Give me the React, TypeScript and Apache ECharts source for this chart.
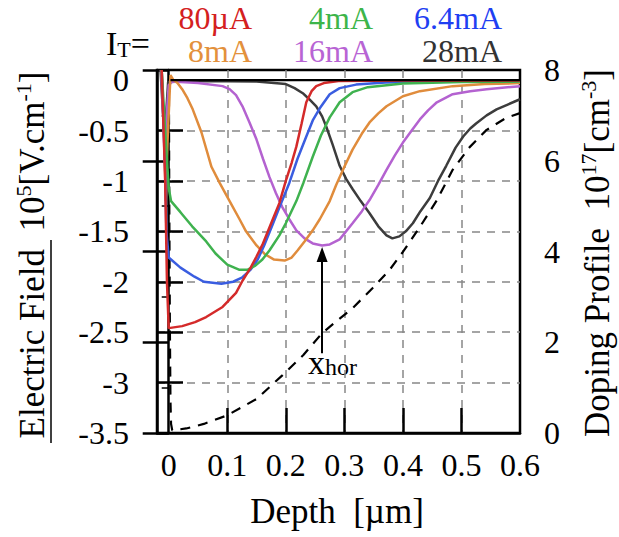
import React, { useEffect, useRef } from 'react';
import * as echarts from 'echarts';

// ---- axes ----
const xLabelValues = [0, 0.1, 0.2, 0.3, 0.4, 0.5, 0.6];
const xTickValues = [0.1, 0.2, 0.3, 0.4, 0.5];
const fieldLabelValues = [-3.5, -3, -2.5, -2, -1.5, -1, -0.5, 0];
const fieldTickValues = [-3, -2.5, -2, -1.5, -1, -0.5];

// ---- legend ----
const currentLabels = ['80µA', '4mA', '6.4mA', '8mA', '16mA', '28mA'];
const curveColors = ['#d42a2a', '#3fb24f', '#3a5de0', '#e08c3c', '#b462d0', '#3c3c3c'];
const labelColors = ['#d42020', '#3db54a', '#1f3ff2', '#e3913c', '#b864d4', '#333333'];

// ---- electric field [1e5 V/cm] vs depth [µm] ----
const field80uA = [
  [-0.012, 0.1], [-0.006, -1.0], [-0.003, -2.0], [0.0, -2.46], [0.023, -2.44], [0.045, -2.4],
  [0.064, -2.35], [0.092, -2.25], [0.115, -2.11], [0.126, -1.99], [0.14, -1.86], [0.15, -1.75],
  [0.161, -1.62], [0.175, -1.42], [0.189, -1.22], [0.2, -1.0], [0.21, -0.82], [0.218, -0.66],
  [0.227, -0.43], [0.235, -0.22], [0.244, -0.11], [0.252, -0.06], [0.265, -0.03], [0.29, -0.01],
  [0.4, -0.005], [0.6, -0.003],
];
const field4mA = [
  [-0.012, 0.1], [-0.005, -0.6], [0.0, -1.07], [0.004, -1.2], [0.02, -1.31], [0.04, -1.45],
  [0.064, -1.6], [0.08, -1.72], [0.1, -1.83], [0.12, -1.88], [0.135, -1.88], [0.148, -1.84],
  [0.16, -1.78], [0.172, -1.69], [0.189, -1.54], [0.2, -1.42], [0.218, -1.2], [0.23, -1.02],
  [0.246, -0.76], [0.26, -0.55], [0.275, -0.37], [0.292, -0.22], [0.314, -0.12], [0.34, -0.07],
  [0.4, -0.035], [0.5, -0.02], [0.6, -0.015],
];
const field6p4mA = [
  [-0.012, 0.1], [-0.006, -0.9], [-0.004, -1.5], [0.0, -1.76], [0.02, -1.86], [0.044, -1.95],
  [0.06, -2.0], [0.09, -2.02], [0.11, -2.0], [0.125, -1.96], [0.14, -1.88], [0.152, -1.78],
  [0.163, -1.64], [0.177, -1.44], [0.19, -1.25], [0.206, -1.02], [0.22, -0.78], [0.235, -0.56],
  [0.246, -0.4], [0.258, -0.28], [0.275, -0.14], [0.292, -0.08], [0.32, -0.045], [0.37, -0.025],
  [0.45, -0.015], [0.6, -0.01],
];
const field8mA = [
  [-0.012, 0.1], [-0.008, -0.5], [-0.005, -1.2], [-0.002, -0.6], [0.003, 0.05], [0.008, 0.0],
  [0.015, -0.03], [0.023, -0.09], [0.032, -0.18], [0.041, -0.29], [0.056, -0.52], [0.073, -0.86],
  [0.087, -1.02], [0.104, -1.2], [0.121, -1.38], [0.132, -1.5], [0.15, -1.64], [0.165, -1.73],
  [0.18, -1.78], [0.198, -1.79], [0.21, -1.76], [0.22, -1.69], [0.232, -1.6], [0.246, -1.49],
  [0.258, -1.38], [0.275, -1.2], [0.286, -1.04], [0.3, -0.86], [0.314, -0.69], [0.33, -0.53],
  [0.343, -0.42], [0.358, -0.33], [0.372, -0.26], [0.4, -0.16], [0.429, -0.11], [0.485, -0.06],
  [0.54, -0.04], [0.6, -0.03],
];
const field16mA = [
  [-0.013, 0.1], [-0.009, -0.4], [-0.007, -0.8], [-0.004, -0.4], [0.0, -0.05], [0.006, -0.015],
  [0.05, -0.03], [0.092, -0.06], [0.104, -0.09], [0.115, -0.15], [0.126, -0.26], [0.138, -0.42],
  [0.15, -0.59], [0.161, -0.78], [0.172, -0.96], [0.183, -1.12], [0.194, -1.26], [0.206, -1.38],
  [0.218, -1.49], [0.232, -1.57], [0.246, -1.62], [0.262, -1.64], [0.275, -1.63], [0.292, -1.58],
  [0.314, -1.42], [0.33, -1.3], [0.343, -1.19], [0.358, -1.04], [0.372, -0.89], [0.386, -0.75],
  [0.4, -0.62], [0.415, -0.5], [0.429, -0.39], [0.443, -0.3], [0.458, -0.22], [0.485, -0.14],
  [0.515, -0.11], [0.543, -0.09], [0.6, -0.06],
];
const field28mA = [
  [-0.014, 0.1], [-0.01, -0.3], [-0.007, -0.6], [-0.004, -0.3], [-0.001, -0.02], [0.05, -0.01],
  [0.15, -0.015], [0.2, -0.04], [0.215, -0.08], [0.229, -0.13], [0.24, -0.19], [0.252, -0.26],
  [0.262, -0.36], [0.269, -0.46], [0.28, -0.64], [0.292, -0.85], [0.303, -0.98], [0.314, -1.08],
  [0.328, -1.2], [0.343, -1.32], [0.358, -1.45], [0.372, -1.54], [0.382, -1.57], [0.394, -1.55],
  [0.405, -1.5], [0.417, -1.42], [0.43, -1.3], [0.446, -1.17], [0.46, -1.0], [0.474, -0.85],
  [0.49, -0.67], [0.503, -0.56], [0.515, -0.48], [0.525, -0.43], [0.543, -0.35], [0.56, -0.29],
  [0.58, -0.24], [0.6, -0.19],
];
const fieldSeries = [field80uA, field4mA, field6p4mA, field8mA, field16mA, field28mA];

// ---- doping profile [1e17 cm^-3] ----
const dopingProfile = [
  [0.0, 9], [0.001, 5], [0.002, 2.3], [0.003, 0.7], [0.004, 0.2], [0.006, 0.06], [0.03, 0.1],
  [0.06, 0.2], [0.1, 0.39], [0.15, 0.75], [0.194, 1.27], [0.23, 1.72], [0.262, 2.2], [0.29, 2.5],
  [0.314, 2.75], [0.348, 3.19], [0.377, 3.59], [0.4, 3.99], [0.429, 4.54], [0.458, 5.13],
  [0.485, 5.8], [0.514, 6.3], [0.543, 6.68], [0.577, 6.95], [0.6, 7.05],
];
const zeroLine = [[0.003, 0], [0.6, 0]];
const xHorArrow = [[0.262, -2.71], [0.262, -1.73]];

const FONT = "'Liberation Serif', 'Times New Roman', serif";

export default function App() {
  const ref = useRef<HTMLDivElement>(null);
  useEffect(() => {
    if (!ref.current) return;
    const chart = echarts.init(ref.current, null, { renderer: 'svg' });
    const main = { fontFamily: FONT, fontSize: 35, lineHeight: 38, verticalAlign: 'bottom', fill: '#000', color: '#000' };
    const sup = { fontFamily: FONT, fontSize: 22, lineHeight: 18, verticalAlign: 'top', fill: '#000', color: '#000' };

    const legendItems: any[] = [];
    const rightEdges = [252, 373, 502];
    currentLabels.forEach((lab, i) => {
      legendItems.push({
        type: 'text',
        x: rightEdges[i % 3],
        y: i < 3 ? 18 : 51,
        style: {
          text: lab, font: `32px ${FONT}`, fontFamily: FONT, fontSize: 32, lineHeight: 30, fill: labelColors[i],
          align: 'right', verticalAlign: 'middle', textAlign: 'right', textVerticalAlign: 'middle',
        },
      });
    });

    const tickFont = { fontFamily: FONT, fontSize: 32, color: '#000' };

    const option: any = {
      animation: false,
      backgroundColor: '#fff',
      textStyle: { fontFamily: FONT },
      grid: { left: 157, top: 70, width: 363, height: 363, show: true, borderColor: '#000', borderWidth: 2.5, backgroundColor: 'transparent' },
      xAxis: {
        type: 'value', min: -0.02, max: 0.6,
        axisLine: { show: true, onZero: false, lineStyle: { color: '#000', width: 2.5 } },
        axisTick: { show: true, inside: true, length: 25, customValues: xTickValues, lineStyle: { color: '#000', width: 2.5 } },
        axisLabel: { customValues: xLabelValues, ...tickFont, margin: 16 },
        splitLine: { show: true, lineStyle: { color: '#888', width: 1.5, type: [8, 7] } },
      },
      yAxis: [
        {
          type: 'value', min: -3.5, max: 0.1,
          axisLine: { show: true, onZero: false, lineStyle: { color: '#000', width: 2.5 } },
          axisTick: { show: true, inside: true, length: 26, customValues: fieldTickValues, lineStyle: { color: '#000', width: 2.5 } },
          axisLabel: { customValues: fieldLabelValues, ...tickFont, margin: 28 },
          splitLine: { show: true, lineStyle: { color: '#888', width: 1.5, type: [8, 7] } },
        },
        {
          type: 'value', min: 0, max: 8, interval: 2, position: 'right',
          axisLine: { show: true, lineStyle: { color: '#000', width: 2.5 } },
          axisTick: { show: true, inside: true, length: 26, lineStyle: { color: '#000', width: 2.5 } },
          minorTick: { show: true, splitNumber: 2, length: 7, lineStyle: { color: '#000', width: 1.5 } },
          axisLabel: { ...tickFont, margin: 24 },
          splitLine: { show: false },
        },
      ],
      series: [
        {
          type: 'line', name: 'doping', yAxisIndex: 1, data: dopingProfile, showSymbol: false, symbol: 'none',
          lineStyle: { color: '#000', width: 2.2, type: [10, 8] }, z: 2,
        },
        ...fieldSeries.map((d, i) => ({
          type: 'line', name: currentLabels[i], data: d, showSymbol: false, symbol: 'none',
          lineStyle: { color: curveColors[i], width: 2.5 }, z: 3,
        })).reverse(),
        {
          type: 'line', name: 'zero', data: zeroLine, showSymbol: false, symbol: 'none',
          lineStyle: { color: '#000', width: 2.2 }, z: 4,
          markLine: {
            silent: true, symbol: ['none', 'triangle'], symbolSize: [11, 15],
            label: { show: false },
            lineStyle: { color: '#000', width: 2, type: 'solid' },
            data: [[{ coord: xHorArrow[0] }, { coord: xHorArrow[1] }]],
          },
        },
      ],
      graphic: [
        ...legendItems,
        {
          type: 'text', x: 106, y: 42,
          style: {
            text: '{a|I}{b|T}{a|=}',
            align: 'left', verticalAlign: 'middle', textAlign: 'left', textVerticalAlign: 'middle',
            rich: {
              a: { fontFamily: FONT, fontSize: 34, lineHeight: 36, verticalAlign: 'bottom', fill: '#000', color: '#000' },
              b: { fontFamily: FONT, fontSize: 22, lineHeight: 12, verticalAlign: 'bottom', fill: '#000', color: '#000' },
            },
          },
        },
        {
          type: 'text', x: 31, y: 255, rotation: Math.PI / 2,
          style: {
            text: '{m|Electric Field  10}{s|5}{m|[V.cm}{s|-1}{m|]}',
            align: 'center', verticalAlign: 'middle', textAlign: 'center', textVerticalAlign: 'middle',
            rich: { m: main, s: sup },
          },
        },
        {
          type: 'line', shape: { x1: 51, y1: 240, x2: 51, y2: 443 },
          style: { stroke: '#000', lineWidth: 1.5 },
        },
        {
          type: 'text', x: 596, y: 253, rotation: Math.PI / 2,
          style: {
            text: '{m|Doping Profile  10}{s|17}{m|[cm}{s|-3}{m|]}',
            align: 'center', verticalAlign: 'middle', textAlign: 'center', textVerticalAlign: 'middle',
            rich: { m: main, s: sup },
          },
        },
        {
          type: 'text', x: 337, y: 511,
          style: {
            text: 'Depth  [µm]', font: `35px ${FONT}`, fontFamily: FONT, fontSize: 35, fill: '#000',
            align: 'center', verticalAlign: 'middle', textAlign: 'center', textVerticalAlign: 'middle',
          },
        },
        {
          type: 'text', x: 308, y: 361,
          style: {
            text: '{x|x}{h|hor}',
            align: 'left', verticalAlign: 'middle', textAlign: 'left', textVerticalAlign: 'middle',
            rich: {
              x: { fontFamily: FONT, fontSize: 34, lineHeight: 36, verticalAlign: 'bottom', fill: '#000', color: '#000' },
              h: { fontFamily: FONT, fontSize: 24, lineHeight: 8, verticalAlign: 'bottom', fill: '#000', color: '#000' },
            },
          },
        },
      ],
    };
    chart.setOption(option);
    return () => chart.dispose();
  }, []);
  return <div ref={ref} style={{ position: 'fixed', left: 0, top: 0, width: 619, height: 537, background: '#fff' }} />;
}
